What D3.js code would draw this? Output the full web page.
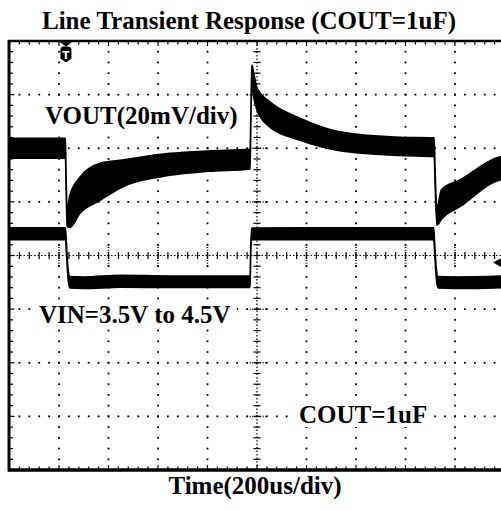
<!DOCTYPE html>
<html>
<head>
<meta charset="utf-8">
<title>Line Transient Response</title>
<script src="https://cdnjs.cloudflare.com/ajax/libs/d3/7.8.5/d3.min.js"></script>
<style>
body { margin:0; background:#fff; }
text { font-family: "Liberation Serif", "Times New Roman", serif; font-weight: bold; }
</style>
</head>
<body>
<div id="scope"></div>
<script>
// Line transient response, scope capture

// time axis: 200us/div, 10 div on screen
var timeDivs = d3.range(0, 2001, 200);
// vertical: 8 div
var levelDivs = d3.range(-4, 5, 1);

// VOUT trace, mV from nominal (20mV/div): middle of the trace and half of its noise band
var voutTime  = [0, 226, 229, 233, 244, 285, 366, 446, 648, 800, 972, 975, 979, 986, 1000, 1051, 1174, 1335, 1578, 1716, 1720, 1727, 1745, 1820, 1982, 2000];
var voutMid   = [0, 0, -14, -26, -23.5, -17.5, -12.5, -9.7, -6, -4.8, -4.1, 10, 28, 24, 18.3, 12.7, 7.1, 2.6, 0.7, 0.4, -12, -25.5, -21, -16.8, -7.5, -7.2];
var voutNoise = [3.7, 3.7, 2.5, 3.2, 6, 6.7, 6.9, 5.2, 4.1, 3.8, 3.7, 2, 3, 4.5, 4.1, 4.7, 4.1, 3.5, 3.4, 3.5, 2.5, 3.2, 5.5, 5, 4.3, 4.3];

// VIN trace, volts (3.5V <-> 4.5V)
var vinTime  = [0, 226, 230, 236, 244, 300, 450, 650, 972, 974, 978, 1200, 1500, 1714, 1718, 1724, 1732, 1800, 2000];
var vinLevel = [4.5, 4.5, 4.2, 3.7, 3.49, 3.48, 3.51, 3.5, 3.5, 4.0, 4.5, 4.5, 4.5, 4.5, 4.2, 3.7, 3.49, 3.48, 3.5];
var vinNoise = [0.125, 0.125, 0.1, 0.1, 0.12, 0.12, 0.125, 0.12, 0.12, 0.1, 0.12, 0.125, 0.125, 0.125, 0.1, 0.1, 0.12, 0.12, 0.12];

var triggerTime = 228;   // us
var triggerLevel = 3.9;  // V

var titleText = "Line Transient Response (COUT=1uF)";
var xLabel = "Time(200us/div)";
var voutLabel = "VOUT(20mV/div)";
var vinLabel = "VIN=3.5V to 4.5V";
var coutLabel = "COUT=1uF";

var W = 501, H = 510;
var plotLeft = 9.5, plotRight = 504.5, plotTop = 41, plotBottom = 470;

var svg = d3.select("#scope").append("svg")
    .attr("width", W)
    .attr("height", H)
    .style("display", "block");

svg.append("rect").attr("width", W).attr("height", H).attr("fill", "#fff");

var x = d3.scaleLinear().domain([0, 2000]).range([plotLeft, plotRight]);
var yDiv = d3.scaleLinear().domain([-4, 4]).range([plotBottom, plotTop]);
// channel scales
var yOut = d3.scaleLinear().domain([-120, 40]).range([plotBottom, plotTop]);   // 0mV sits at +2 div
var yIn = d3.scaleLinear().domain([3.5, 4.5]).range([yDiv(-0.49), yDiv(0.405)]);

var minorT = d3.range(0, 2001, 40);
var minorY = d3.range(-20, 21).map(function (k) { return k / 5; });

var grid = svg.append("g").attr("fill", "#000");

// dotted graticule
timeDivs.forEach(function (t) {
  if (t === 0 || t === 2000 || t === 1000) return;
  grid.selectAll(null).data(minorY.slice(1, -1)).enter().append("rect")
      .attr("x", x(t) - 0.9)
      .attr("y", function (d) { return yDiv(d) - 0.9; })
      .attr("width", 1.8).attr("height", 1.8);
  // denser near the centre line
  grid.append("line")
      .attr("x1", x(t)).attr("x2", x(t))
      .attr("y1", yDiv(-0.2)).attr("y2", yDiv(0.2))
      .attr("stroke", "#000").attr("stroke-width", 1.5)
      .attr("stroke-dasharray", "1,1.6");
});
levelDivs.forEach(function (v) {
  if (v === -4 || v === 4 || v === 0) return;
  grid.selectAll(null).data(minorT.slice(1, -1)).enter().append("rect")
      .attr("x", function (d) { return x(d) - 0.9; })
      .attr("y", yDiv(v) - 0.9)
      .attr("width", 1.8).attr("height", 1.8);
  grid.append("line")
      .attr("x1", x(960)).attr("x2", x(1040))
      .attr("y1", yDiv(v)).attr("y2", yDiv(v))
      .attr("stroke", "#000").attr("stroke-width", 1.5)
      .attr("stroke-dasharray", "1,1.6");
});

// centre axes with minor ticks
grid.append("line")
    .attr("x1", plotLeft).attr("x2", plotRight)
    .attr("y1", yDiv(0)).attr("y2", yDiv(0))
    .attr("stroke", "#000").attr("stroke-width", 1.2)
    .attr("stroke-dasharray", "1.5,2");
grid.selectAll(".tickc").data(minorT).enter().append("line")
    .attr("x1", x).attr("x2", x)
    .attr("y1", yDiv(0) - 3.5).attr("y2", yDiv(0) + 3.5)
    .attr("stroke", "#000").attr("stroke-width", 1.2);

grid.append("line")
    .attr("x1", x(1000)).attr("x2", x(1000))
    .attr("y1", plotTop).attr("y2", plotBottom)
    .attr("stroke", "#000").attr("stroke-width", 1.2)
    .attr("stroke-dasharray", "1.5,2");
grid.selectAll(".tickv").data(minorY).enter().append("line")
    .attr("x1", x(1000) - 3.5).attr("x2", x(1000) + 3.5)
    .attr("y1", yDiv).attr("y2", yDiv)
    .attr("stroke", "#000").attr("stroke-width", 1.2);

// ticks on the frame
grid.selectAll(".ttop").data(minorT).enter().append("line")
    .attr("x1", x).attr("x2", x)
    .attr("y1", plotTop).attr("y2", function (d) { return plotTop + (d % 200 === 0 ? 5 : 3.5); })
    .attr("stroke", "#000").attr("stroke-width", 1.2);
grid.selectAll(".tbot").data(minorT).enter().append("line")
    .attr("x1", x).attr("x2", x)
    .attr("y1", plotBottom).attr("y2", function (d) { return plotBottom - (d % 200 === 0 ? 5 : 3.5); })
    .attr("stroke", "#000").attr("stroke-width", 1.2);
grid.selectAll(".tleft").data(minorY).enter().append("line")
    .attr("x1", plotLeft).attr("x2", function (d) { return plotLeft + (Number.isInteger(d) ? 5 : 3.5); })
    .attr("y1", yDiv).attr("y2", yDiv)
    .attr("stroke", "#000").attr("stroke-width", 1.2);

// traces
svg.append("clipPath").attr("id", "screen")
  .append("rect")
    .attr("x", plotLeft).attr("y", plotTop)
    .attr("width", plotRight - plotLeft).attr("height", plotBottom - plotTop);

var traces = svg.append("g").attr("clip-path", "url(#screen)");

var vout = voutTime.map(function (t, i) { return {t: t, mid: voutMid[i], n: voutNoise[i]}; });
var vin = vinTime.map(function (t, i) { return {t: t, mid: vinLevel[i], n: vinNoise[i]}; });

var areaOut = d3.area()
    .curve(d3.curveMonotoneX)
    .x(function (d) { return x(d.t); })
    .y0(function (d) { return yOut(d.mid - d.n); })
    .y1(function (d) { return yOut(d.mid + d.n); });

var areaIn = d3.area()
    .curve(d3.curveMonotoneX)
    .x(function (d) { return x(d.t); })
    .y0(function (d) { return yIn(d.mid - d.n); })
    .y1(function (d) { return yIn(d.mid + d.n); });

traces.append("path").datum(vin)
    .attr("d", areaIn)
    .attr("fill", "#000").attr("stroke", "#000")
    .attr("stroke-width", 1.6).attr("stroke-linejoin", "round");

traces.append("path").datum(vout)
    .attr("d", areaOut)
    .attr("fill", "#000").attr("stroke", "#000")
    .attr("stroke-width", 1.6).attr("stroke-linejoin", "round");

// frame
svg.append("line").attr("x1", plotLeft - 1).attr("x2", W).attr("y1", plotTop).attr("y2", plotTop)
    .attr("stroke", "#000").attr("stroke-width", 2.5);
svg.append("line").attr("x1", plotLeft - 1).attr("x2", W).attr("y1", plotBottom).attr("y2", plotBottom)
    .attr("stroke", "#000").attr("stroke-width", 3.5);
svg.append("line").attr("x1", plotLeft - 0.5).attr("x2", plotLeft - 0.5).attr("y1", plotTop - 1).attr("y2", plotBottom + 1.5)
    .attr("stroke", "#000").attr("stroke-width", 3);

// trigger markers
var tx = x(triggerTime);
svg.append("path")
    .attr("d", "M" + (tx - 7.5) + "," + plotTop + "L" + (tx + 7.5) + "," + plotTop + "L" + tx + "," + (plotTop + 5.5) + "Z")
    .attr("fill", "#000");
svg.append("path")
    .attr("d", "M" + (tx - 5.5) + ",50Q" + (tx - 5.5) + ",46.5 " + (tx - 2.5) + ",46.5H" + (tx + 2.5) +
               "Q" + (tx + 5.5) + ",46.5 " + (tx + 5.5) + ",50V58.5L" + tx + ",62.5L" + (tx - 5.5) + ",58.5Z")
    .attr("fill", "#000");
svg.append("text")
    .attr("x", tx).attr("y", 58.5)
    .attr("text-anchor", "middle")
    .style("font-family", "'DejaVu Sans', sans-serif")
    .style("font-size", "10.5px")
    .attr("fill", "#fff")
    .text("T");

var ty = yIn(triggerLevel);
svg.append("path")
    .attr("d", "M493," + ty + "L" + (W + 1) + "," + (ty - 5) + "L" + (W + 1) + "," + (ty + 5) + "Z")
    .attr("fill", "#000");

// labels (white box behind the in-screen ones)
function boxedLabel(txt, px, py) {
  var g = svg.append("g");
  var box = g.append("rect").attr("fill", "#fff");
  var t = g.append("text")
      .attr("x", px).attr("y", py)
      .style("font-size", "25px")
      .attr("fill", "#000")
      .text(txt);
  var b = t.node().getBBox();
  box.attr("x", b.x - 6).attr("y", b.y + 2).attr("width", b.width + 12).attr("height", b.height - 3);
}

boxedLabel(voutLabel, 45, 124);
boxedLabel(vinLabel, 39, 323);
boxedLabel(coutLabel, 299, 423);

svg.append("text")
    .attr("x", 249).attr("y", 29)
    .attr("text-anchor", "middle")
    .style("font-size", "25px")
    .text(titleText);

svg.append("text")
    .attr("x", 255).attr("y", 494)
    .attr("text-anchor", "middle")
    .style("font-size", "25px")
    .text(xLabel);
</script>
</body>
</html>
